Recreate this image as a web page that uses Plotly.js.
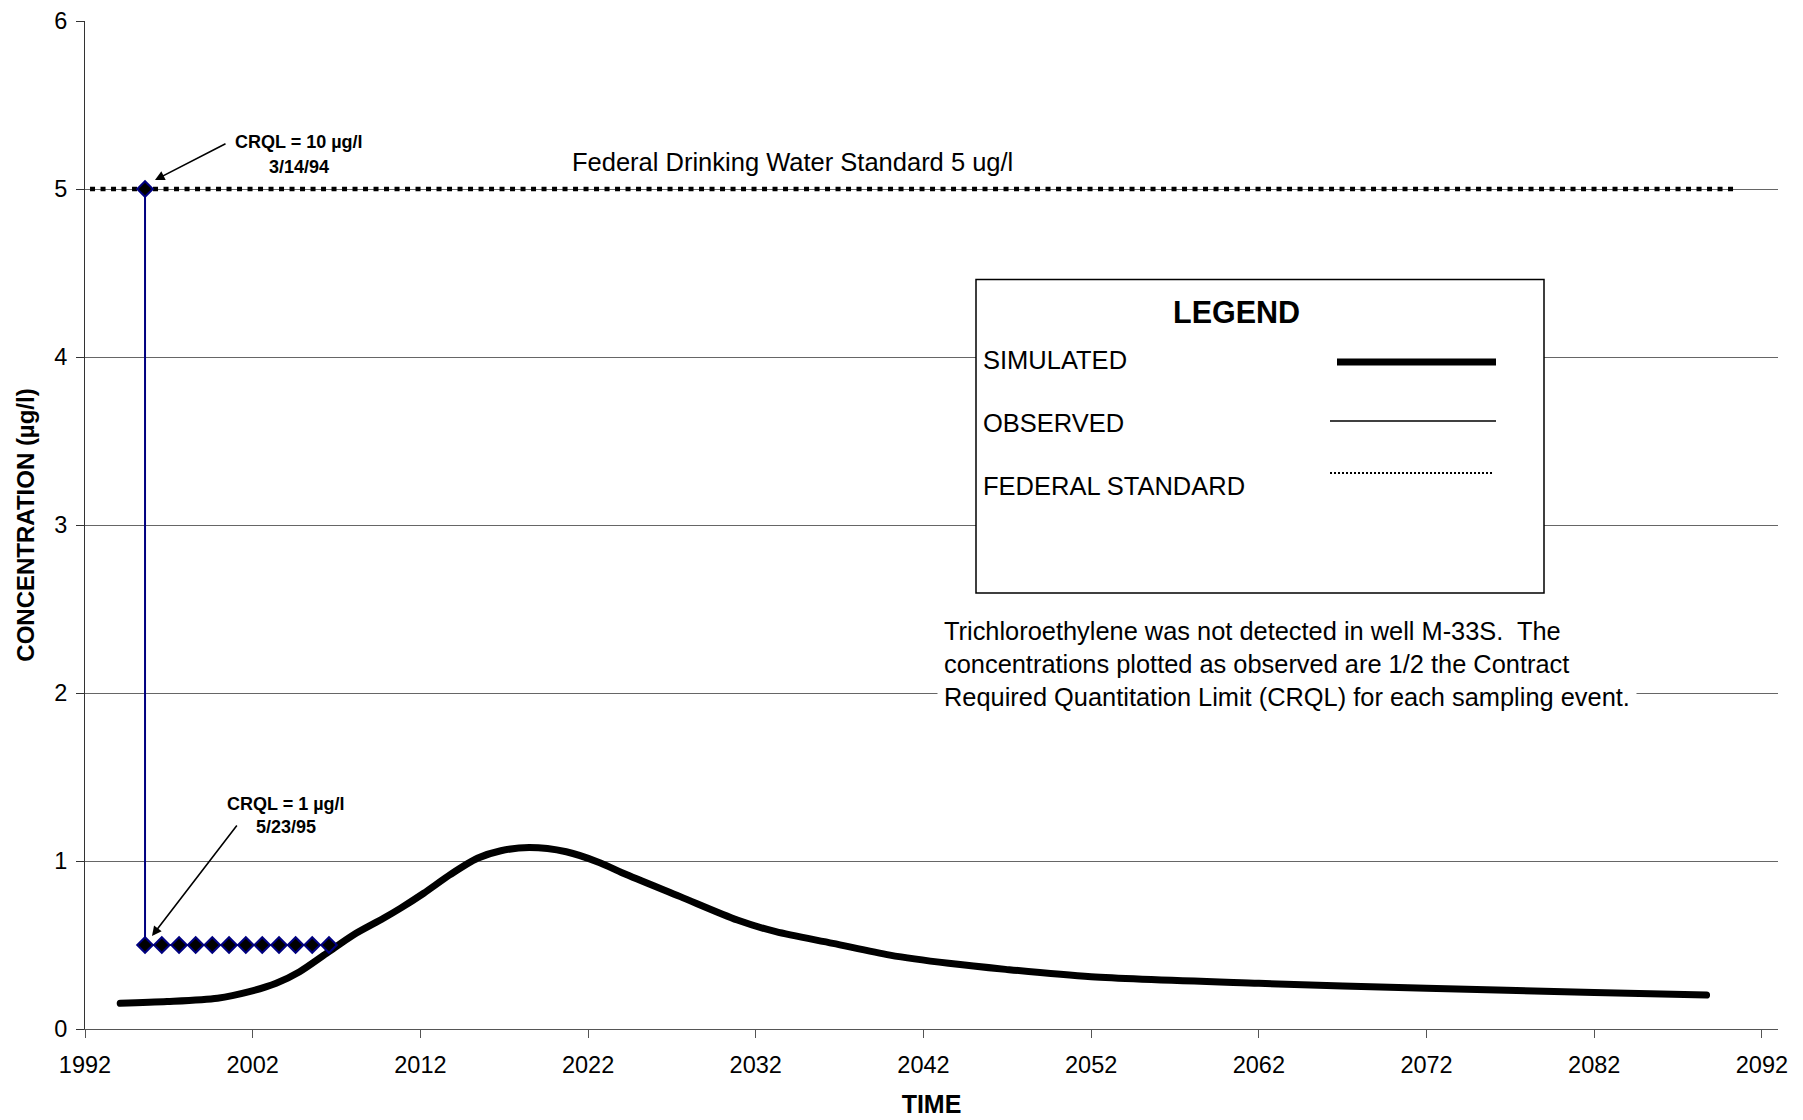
<!DOCTYPE html>
<html>
<head>
<meta charset="utf-8">
<script src="https://cdn.plot.ly/plotly-3.0.1.min.js"></script>
<style>
  html, body { margin: 0; padding: 0; background: #ffffff; }
  #chart { width: 1803px; height: 1120px; }
  .scatterlayer .trace:nth-child(1) .js-line { stroke-linecap: round; stroke-linejoin: round; }
</style>
</head>
<body>
<div id="chart"></div>
<script>
// Simulated TCE concentration in well M-33S (ug/l) by year
const simYears = [1994.1, 1996.9, 1999.9, 2001.8, 2003.4, 2004.8, 2006.4, 2008.0, 2009.8, 2010.8,
                  2012.2, 2013.8, 2015.4, 2016.8, 2018.5, 2020.7, 2022.7, 2024.1, 2027.5, 2030.9,
                  2033.2, 2036.6, 2040.0, 2043.5, 2046.9, 2052.0, 2062.0, 2072.0, 2082.0, 2088.7];
const simConc  = [0.153, 0.163, 0.183, 0.222, 0.272, 0.341, 0.45, 0.56, 0.659, 0.718,
                  0.808, 0.92, 1.016, 1.061, 1.08, 1.055, 0.99, 0.927, 0.788, 0.649,
                  0.579, 0.510, 0.440, 0.391, 0.355, 0.311, 0.272, 0.242, 0.218, 0.202];

// Observed values (1/2 CRQL for each sampling event)
const obsYears = [1995.58, 1995.58, 1996.58, 1997.61, 1998.60, 1999.59, 2000.59,
                  2001.59, 2002.57, 2003.57, 2004.56, 2005.55, 2006.55];
const obsConc  = [5.0, 0.5, 0.5, 0.5, 0.5, 0.5, 0.5, 0.5, 0.5, 0.5, 0.5, 0.5, 0.5];

// Federal drinking water standard
const stdYears = [1992.3, 2090.6];
const stdConc  = [5, 5];

// Axis ticks
const yearTicks = [1992, 2002, 2012, 2022, 2032, 2042, 2052, 2062, 2072, 2082, 2092];
const concTicks = [0, 1, 2, 3, 4, 5, 6];

const FONT = '"Liberation Sans", Arial, Helvetica, sans-serif';

// plot area in page pixels
const L = 85, R = 1778, T = 21, B = 1029;
const px = x => (x - L) / (R - L);
const py = y => (B - y) / (B - T);

const traces = [
  {
    x: simYears, y: simConc, type: 'scatter', mode: 'lines',
    line: { color: '#000000', width: 7, shape: 'spline', smoothing: 0.8 },
    hoverinfo: 'skip'
  },
  {
    x: stdYears, y: stdConc, type: 'scatter', mode: 'lines',
    line: { color: '#000000', width: 4.5, dash: '5px,5.5px' },
    hoverinfo: 'skip'
  },
  {
    x: obsYears, y: obsConc, type: 'scatter', mode: 'lines+markers',
    line: { color: '#000080', width: 2 },
    marker: { symbol: 'diamond', size: 12, color: '#000000', line: { color: '#000080', width: 2 } },
    hoverinfo: 'skip'
  }
];

const shapes = [
  // legend box
  { type: 'rect', xref: 'paper', yref: 'paper', x0: px(976), x1: px(1544), y0: py(593), y1: py(279.5),
    fillcolor: '#ffffff', line: { color: '#000000', width: 1.5 }, layer: 'above' },
  // legend samples
  { type: 'line', xref: 'paper', yref: 'paper', x0: px(1337), x1: px(1496), y0: py(362), y1: py(362),
    line: { color: '#000000', width: 7 }, layer: 'above' },
  { type: 'line', xref: 'paper', yref: 'paper', x0: px(1330), x1: px(1496), y0: py(421), y1: py(421),
    line: { color: '#000000', width: 1.5 }, layer: 'above' },
  { type: 'line', xref: 'paper', yref: 'paper', x0: px(1330), x1: px(1494), y0: py(473), y1: py(473),
    line: { color: '#000000', width: 2, dash: '2px,2px' }, layer: 'above' }
];

const ann = (text, x, y, size, opts) => Object.assign({
  text: text, xref: 'paper', yref: 'paper', x: px(x), y: py(y),
  xanchor: 'center', yanchor: 'middle',
  showarrow: false, font: { family: FONT, size: size, color: '#000000' }
}, opts || {});

const annotations = [
  ann('<b>LEGEND</b>', 1236, 312, 30.5),
  ann('SIMULATED', 981, 360, 25.5, { xanchor: 'left' }),
  ann('OBSERVED', 981, 423, 25.5, { xanchor: 'left' }),
  ann('FEDERAL STANDARD', 981, 486, 25.5, { xanchor: 'left' }),
  ann('Federal Drinking Water Standard 5 ug/l', 570, 162, 25.5, { xanchor: 'left' }),
  ann('Trichloroethylene was not detected in well M-33S.  The<br>' +
      'concentrations plotted as observed are 1/2 the Contract<br>' +
      'Required Quantitation Limit (CRQL) for each sampling event.',
      937, 664, 25.4, { xanchor: 'left', align: 'left', bgcolor: '#ffffff', borderpad: 6 }),
  ann('<b>CRQL = 10 µg/l</b>', 299, 142, 18),
  ann('<b>3/14/94</b>', 299, 166.5, 18),
  ann('<b>CRQL = 1 µg/l</b>', 286, 804, 18),
  ann('<b>5/23/95</b>', 286, 827.5, 18),
  // arrows pointing at the two CRQL samples
  { text: '', xref: 'paper', yref: 'paper', x: px(155), y: py(180), ax: 72, ay: -37,
    showarrow: true, arrowhead: 2, arrowsize: 1.2, arrowwidth: 1.6, arrowcolor: '#000000', standoff: 0 },
  { text: '', xref: 'paper', yref: 'paper', x: px(152), y: py(936), ax: 86, ay: -112,
    showarrow: true, arrowhead: 2, arrowsize: 1.2, arrowwidth: 1.6, arrowcolor: '#000000', standoff: 0 }
];

const layout = {
  width: 1803, height: 1120,
  margin: { l: L, r: 1803 - R, t: T, b: 1120 - B, pad: 0 },
  paper_bgcolor: '#ffffff', plot_bgcolor: '#ffffff',
  font: { family: FONT, size: 23.5, color: '#000000' },
  showlegend: false,
  hovermode: false,
  xaxis: {
    range: [1992, 2092.96], tickvals: yearTicks, ticktext: yearTicks.map(String),
    ticks: 'outside', ticklen: 8, tickcolor: '#555555', tickwidth: 1,
    showline: true, linecolor: '#555555', linewidth: 1,
    showgrid: false, zeroline: false,
    tickfont: { family: FONT, size: 23.5 },
    ticklabelstandoff: 7,
    title: { text: '<b>TIME</b>', font: { family: FONT, size: 25 }, standoff: 18 }
  },
  yaxis: {
    range: [0, 6], tickvals: concTicks,
    ticks: 'outside', ticklen: 8, tickcolor: '#333333', tickwidth: 1,
    showline: true, linecolor: '#333333', linewidth: 1,
    showgrid: true, gridcolor: '#666666', gridwidth: 1,
    zeroline: false,
    tickfont: { family: FONT, size: 23.5 },
    ticklabelstandoff: 4,
    title: { text: '<b>CONCENTRATION (µg/l)</b>', font: { family: FONT, size: 24 }, standoff: 12 }
  },
  shapes: shapes,
  annotations: annotations
};

Plotly.newPlot('chart', traces, layout, { displayModeBar: false, staticPlot: true });
</script>
</body>
</html>
